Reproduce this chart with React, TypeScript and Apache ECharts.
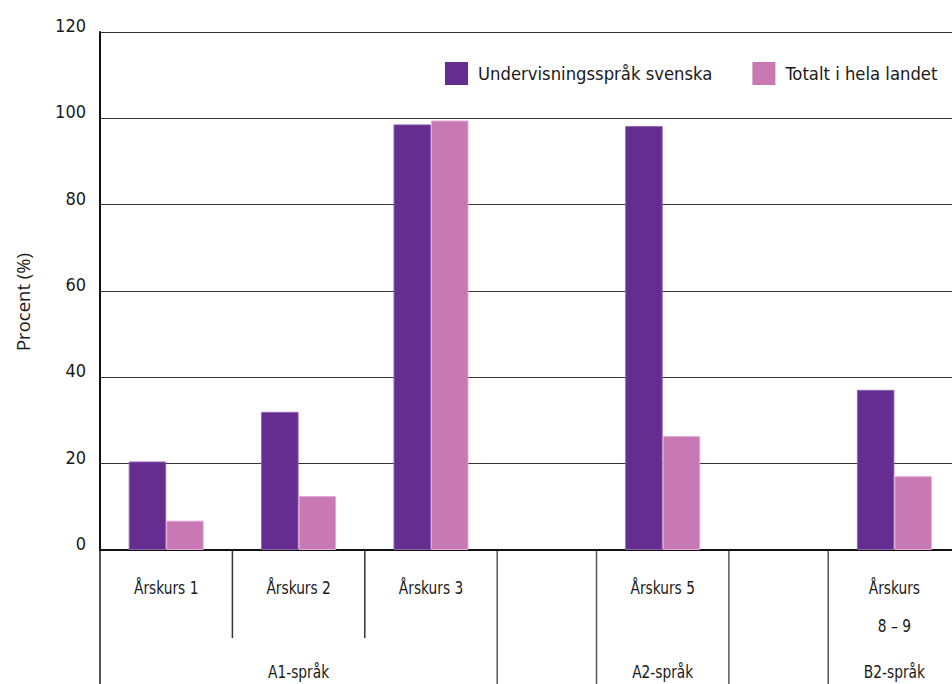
import React, { useEffect, useRef } from "react";
import * as echarts from "echarts";

const positions = [2, 6, 10, 17, 24];
const categories = ["Årskurs 1", "Årskurs 2", "Årskurs 3", "Årskurs 5", "Årskurs\n8 – 9"];
const svenska = [20.5, 32.0, 98.6, 98.2, 37.1];
const totalt = [6.8, 12.5, 99.5, 26.4, 17.1];
const seriesNames = ["Undervisningsspråk svenska", "Totalt i hela landet"];
const groupNames = ["A1-språk", "A2-språk", "B2-språk"];
const groupCenters = [6, 17, 24];
const shortDividers = [4, 8];
const longDividers = [12, 15, 19, 22];

const NARROW = "'DejaVu Sans Condensed', 'Liberation Sans', sans-serif";
const PURPLE = "#652d8f";
const PINK = "#c879b3";

export default function App() {
  const ref = useRef<HTMLDivElement>(null);
  useEffect(() => {
    if (!ref.current) return;
    const chart = echarts.init(ref.current, undefined, { renderer: "svg" });
    const xMax = (952 - 100) / 33.1;
    chart.setOption({
      animation: false,
      backgroundColor: "#ffffff",
      grid: { left: 100, right: 0, top: 32, bottom: 134 },
      legend: {
        left: 445,
        top: 62,
        padding: 0,
        width: 520,
        itemWidth: 23,
        itemHeight: 23,
        itemGap: 40,
        icon: "rect",
        itemStyle: { borderWidth: 0 },
        textStyle: { fontFamily: NARROW, fontSize: 18.3, color: "#1a1a1a", padding: [0, 0, 0, 5] },
        data: seriesNames,
      },
      xAxis: [
        {
          type: "value",
          min: 0,
          max: xMax,
          axisLine: { show: true, onZero: false, lineStyle: { color: "#111", width: 2 } },
          axisTick: { show: false },
          axisLabel: { show: false },
          splitLine: { show: false },
        },
        {
          type: "value",
          position: "top",
          min: 0,
          max: xMax,
          axisLine: { show: true, lineStyle: { color: "#111", width: 2 } },
          axisTick: { show: false },
          axisLabel: { show: false },
          splitLine: { show: false },
        },
      ],
      yAxis: {
        type: "value",
        min: 0,
        max: 120,
        interval: 20,
        axisLine: { show: true, lineStyle: { color: "#111", width: 2 } },
        axisTick: { show: false },
        axisLabel: {
          fontFamily: NARROW,
          fontSize: 18,
          color: "#1a1a1a",
          margin: 14,
          verticalAlign: "bottom",
          lineHeight: 13,
        },
        splitLine: { show: true, lineStyle: { color: "#333", width: 1 } },
      },
      series: [
        {
          name: seriesNames[0],
          type: "bar",
          xAxisIndex: 0,
          barWidth: 37.5,
          barGap: "0%",
          itemStyle: { color: PURPLE, borderColor: "#8d62b3", borderWidth: 1 },
          data: positions.map((p, i) => [p, svenska[i]]),
        },
        {
          name: seriesNames[1],
          type: "bar",
          xAxisIndex: 0,
          barWidth: 37.5,
          barGap: "0%",
          itemStyle: { color: PINK, borderColor: "#e2abd3", borderWidth: 1 },
          data: positions.map((p, i) => [p, totalt[i]]),
        },
      ],
    });

    const px = (x: number) => chart.convertToPixel({ xAxisIndex: 0 }, x) as number;
    const y0 = chart.convertToPixel({ yAxisIndex: 0 }, 0) as number;
    const graphics: any[] = [];
    graphics.push({
      type: "text",
      x: 22,
      y: 302,
      rotation: Math.PI / 2,
      style: {
        text: "Procent (%)",
        fontFamily: "'Open Sans', 'Noto Sans', sans-serif",
        fontSize: 18.5,
        fill: "#1a1a1a",
        align: "center",
        verticalAlign: "middle",
      },
    });
    graphics.push({
      type: "line",
      shape: { x1: px(0), y1: y0, x2: px(0), y2: 684 },
      style: { stroke: "#555", lineWidth: 2 },
    });
    shortDividers.forEach((d) => {
      graphics.push({
        type: "line",
        shape: { x1: px(d), y1: y0, x2: px(d), y2: 638 },
        style: { stroke: "#333", lineWidth: 1.5 },
      });
    });
    longDividers.forEach((d) => {
      graphics.push({
        type: "line",
        shape: { x1: px(d), y1: y0, x2: px(d), y2: 684 },
        style: { stroke: "#555", lineWidth: 1.5 },
      });
    });
    categories.forEach((c, i) => {
      graphics.push({
        type: "text",
        x: px(positions[i]),
        y: 569,
        scaleX: 0.85,
        style: {
          text: c,
          fontFamily: NARROW,
          fontSize: 18,
          lineHeight: 38,
          fill: "#1a1a1a",
          align: "center",
          verticalAlign: "top",
        },
      });
    });
    groupNames.forEach((g, i) => {
      graphics.push({
        type: "text",
        x: px(groupCenters[i]),
        y: 672,
        scaleX: 0.85,
        style: {
          text: g,
          fontFamily: NARROW,
          fontSize: 18,
          fill: "#1a1a1a",
          align: "center",
          verticalAlign: "middle",
        },
      });
    });
    chart.setOption({ graphic: graphics });
    return () => chart.dispose();
  }, []);
  return (
    <div
      ref={ref}
      style={{ position: "fixed", left: 0, top: 0, width: 952, height: 684 }}
    />
  );
}
